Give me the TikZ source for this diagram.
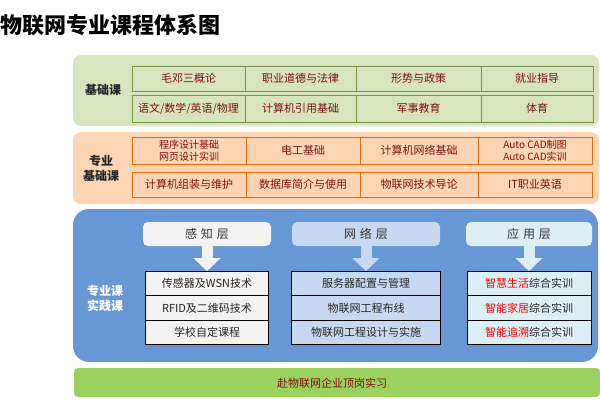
\documentclass[tikz,border=0pt]{standalone}
\usepackage{fontspec}
\setmainfont{Noto Sans CJK SC}
\usepackage{xcolor}
\usetikzlibrary{positioning, arrows.meta}
\definecolor{jcbg}{HTML}{D7E4BD}
\definecolor{jcline}{HTML}{77933C}
\definecolor{zybg}{HTML}{FCD5B4}
\definecolor{zyline}{HTML}{E46C0A}
\definecolor{sjbg}{HTML}{6897D6}
\definecolor{sjgrey}{HTML}{F2F2F2}
\definecolor{sjblue}{HTML}{C6D9F1}
\definecolor{sjcyan}{HTML}{DBEEF4}
\definecolor{sxbg}{HTML}{9BD15F}
\definecolor{course}{HTML}{7F1010}
\tikzset{
	every node/.style={
		align=center,
	},
}
\tikzstyle{section} = [draw=none, rounded corners=8pt]
\tikzstyle{section-name} = [rectangle, draw=none, text centered, font=\bfseries\fontsize{12}{15}\selectfont]
\tikzstyle{jc-cell} = [rectangle, draw=jcline, line width=1pt, outer sep=0pt, inner sep=0pt, text=course, font=\fontsize{11}{13}\selectfont]
\tikzstyle{zy-cell} = [rectangle, draw=zyline, line width=1pt, outer sep=0pt, inner sep=0pt, text=course, font=\fontsize{11}{13}\selectfont]
\tikzstyle{small-text} = [font=\fontsize{10}{12.5}\selectfont]
\tikzstyle{layer} = [rectangle, draw=none, rounded corners=5pt, minimum height=24pt, text=black!80, font=\fontsize{12}{14}\selectfont]
\tikzstyle{sj-cell} = [rectangle, draw=black, line width=1pt, outer sep=0pt, inner sep=0pt, minimum height=24.5pt, text=black!85, font=\fontsize{11}{13}\selectfont]
\tikzstyle{layer-arrow} = [line width=11pt, -{Triangle[width=26pt, length=13pt]}]

\begin{document}
\begin{tikzpicture}[x=1pt, y=-1pt]
    \useasboundingbox (0,0) rectangle (600,400);

    \node (title) [anchor=west, inner sep=0pt, font=\bfseries\fontsize{22}{26}\selectfont] at (0.5,25) {物联网专业课程体系图};

    \draw[section, fill=jcbg] (73,55) rectangle (599,126);
    \draw[section, fill=zybg] (73,132) rectangle (599,204);
    \draw[section, rounded corners=16pt, fill=sjbg] (73,209) rectangle (598,362);
    \draw[section, rounded corners=4pt, fill=sxbg] (74,368) rectangle (600,397);

    \node (jc) [section-name, text=black!85] at (103,90) {基础课};
    \node (zy) [section-name, text=black!85] at (101,168) {专业\\基础课};
    \node (sj) [section-name, text=white] at (105,298) {专业课\\实践课};

    \node (b1) [jc-cell, minimum width=113pt, minimum height=25pt, anchor=north west] at (132,66) {毛邓三概论};
    \node (b2) [jc-cell, minimum width=111pt, minimum height=25pt, right=0pt of b1] {职业道德与法律};
    \node (b3) [jc-cell, minimum width=125pt, minimum height=25pt, right=0pt of b2] {形势与政策};
    \node (b4) [jc-cell, minimum width=112pt, minimum height=25pt, right=0pt of b3] {就业指导};
    \node (b5) [jc-cell, minimum width=113pt, minimum height=27pt, anchor=north west] at (132,95) {语文/数学/英语/物理};
    \node (b6) [jc-cell, minimum width=111pt, minimum height=27pt, right=0pt of b5] {计算机引用基础};
    \node (b7) [jc-cell, minimum width=125pt, minimum height=27pt, right=0pt of b6] {军事教育};
    \node (b8) [jc-cell, minimum width=112pt, minimum height=27pt, right=0pt of b7] {体育};

    \node (z1) [zy-cell, small-text, minimum width=114pt, minimum height=27pt, anchor=north west] at (132,137) {程序设计基础\\网页设计实训};
    \node (z2) [zy-cell, minimum width=114pt, minimum height=27pt, right=0pt of z1] {电工基础};
    \node (z3) [zy-cell, minimum width=118pt, minimum height=27pt, right=0pt of z2] {计算机网络基础};
    \node (z4) [zy-cell, small-text, minimum width=114pt, minimum height=27pt, right=0pt of z3] {Auto CAD制图\\Auto CAD实训};
    \node (z5) [zy-cell, minimum width=114pt, minimum height=25pt, anchor=north west] at (132,172) {计算机组装与维护};
    \node (z6) [zy-cell, minimum width=114pt, minimum height=25pt, right=0pt of z5] {数据库简介与使用};
    \node (z7) [zy-cell, minimum width=118pt, minimum height=25pt, right=0pt of z6] {物联网技术导论};
    \node (z8) [zy-cell, minimum width=114pt, minimum height=25pt, right=0pt of z7] {IT职业英语};

    \node (gz) [layer, fill=sjgrey, minimum width=128pt] at (207,234) {感\,\,知\,\,层};
    \node (wl) [layer, fill=sjblue, minimum width=148pt] at (366,234) {网\,\,络\,\,层};
    \node (yy) [layer, fill=sjcyan, minimum width=126pt] at (529,234) {应\,\,用\,\,层};

    \node (g1) [sj-cell, fill=sjgrey, minimum width=123pt, below=25pt of gz] {传感器及WSN技术};
    \node (g2) [sj-cell, fill=sjgrey, minimum width=123pt, below=0pt of g1] {RFID及二维码技术};
    \node (g3) [sj-cell, fill=sjgrey, minimum width=123pt, below=0pt of g2] {学校自定课程};

    \node (w1) [sj-cell, fill=sjblue, minimum width=149pt, below=25pt of wl] {服务器配置与管理};
    \node (w2) [sj-cell, fill=sjblue, minimum width=149pt, below=0pt of w1] {物联网工程布线};
    \node (w3) [sj-cell, fill=sjblue, minimum width=149pt, below=0pt of w2] {物联网工程设计与实施};

    \node (y1) [sj-cell, fill=sjcyan, minimum width=124pt, below=25pt of yy] {\textcolor{red}{智慧生活}综合实训};
    \node (y2) [sj-cell, fill=sjcyan, minimum width=124pt, below=0pt of y1] {\textcolor{red}{智能家居}综合实训};
    \node (y3) [sj-cell, fill=sjcyan, minimum width=124pt, below=0pt of y2] {\textcolor{red}{智能追溯}综合实训};

    \draw[layer-arrow, sjgrey] (gz.south) -- (g1.north);
    \draw[layer-arrow, sjblue] (wl.south) -- (w1.north);
    \draw[layer-arrow, sjcyan] (yy.south) -- (y1.north);

    \node (sx) [text=course, font=\fontsize{11}{13}\selectfont] at (332,383) {赴物联网企业顶岗实习};
\end{tikzpicture}
\end{document}
